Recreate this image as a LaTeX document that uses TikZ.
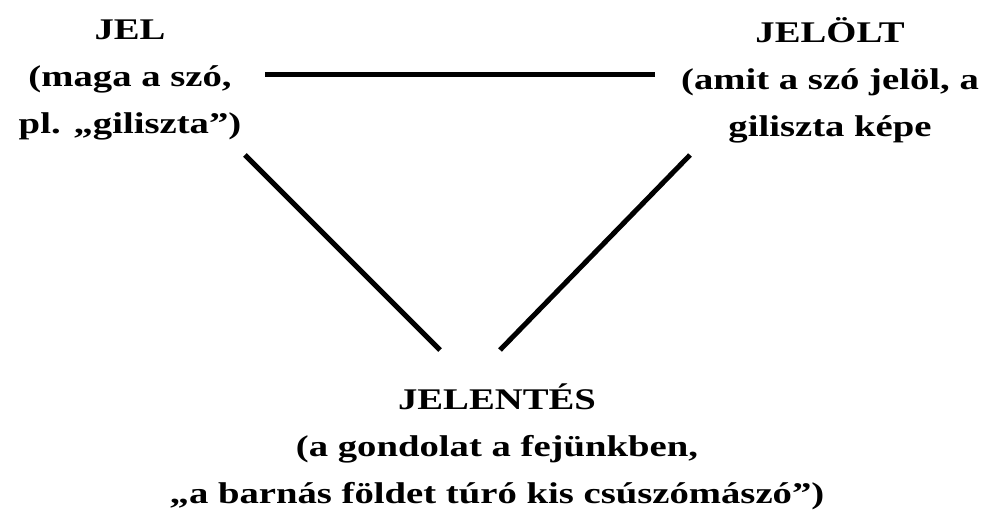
\documentclass[tikz,border=0pt]{standalone}
\usepackage{fontspec}
\setmainfont{Liberation Serif}
\begin{document}
\begin{tikzpicture}[x=1pt,y=1pt,
  lbl/.style={align=center,inner sep=0pt,xscale=1.29,font=\bfseries\fontsize{30}{47}\selectfont},
  conn/.style={line width=5pt}]
\useasboundingbox (0,0) rectangle (987,511);
\fill[white] (0,0) rectangle (987,511);
\node[lbl] (jel) at (130,431) {JEL\\(maga a szó,\\pl. „giliszta")};
\node[lbl] (jelolt) at (830,431) {JELÖLT\\(amit a szó jelöl, a\\giliszta képe};
\node[lbl] (jelentes) at (497,64) {JELENTÉS\\(a gondolat a fejünkben,\\„a barnás földet túró kis csúszómászó")};
\coordinate (t1) at (265,436);
\coordinate (t2) at (655,436);
\coordinate (l1) at (245,356);
\coordinate (l2) at (440,161);
\coordinate (r1) at (690,356);
\coordinate (r2) at (500,161);
\draw[conn] (t1) -- (t2);
\draw[conn] (l1) -- (l2);
\draw[conn] (r1) -- (r2);
\end{tikzpicture}
\end{document}
